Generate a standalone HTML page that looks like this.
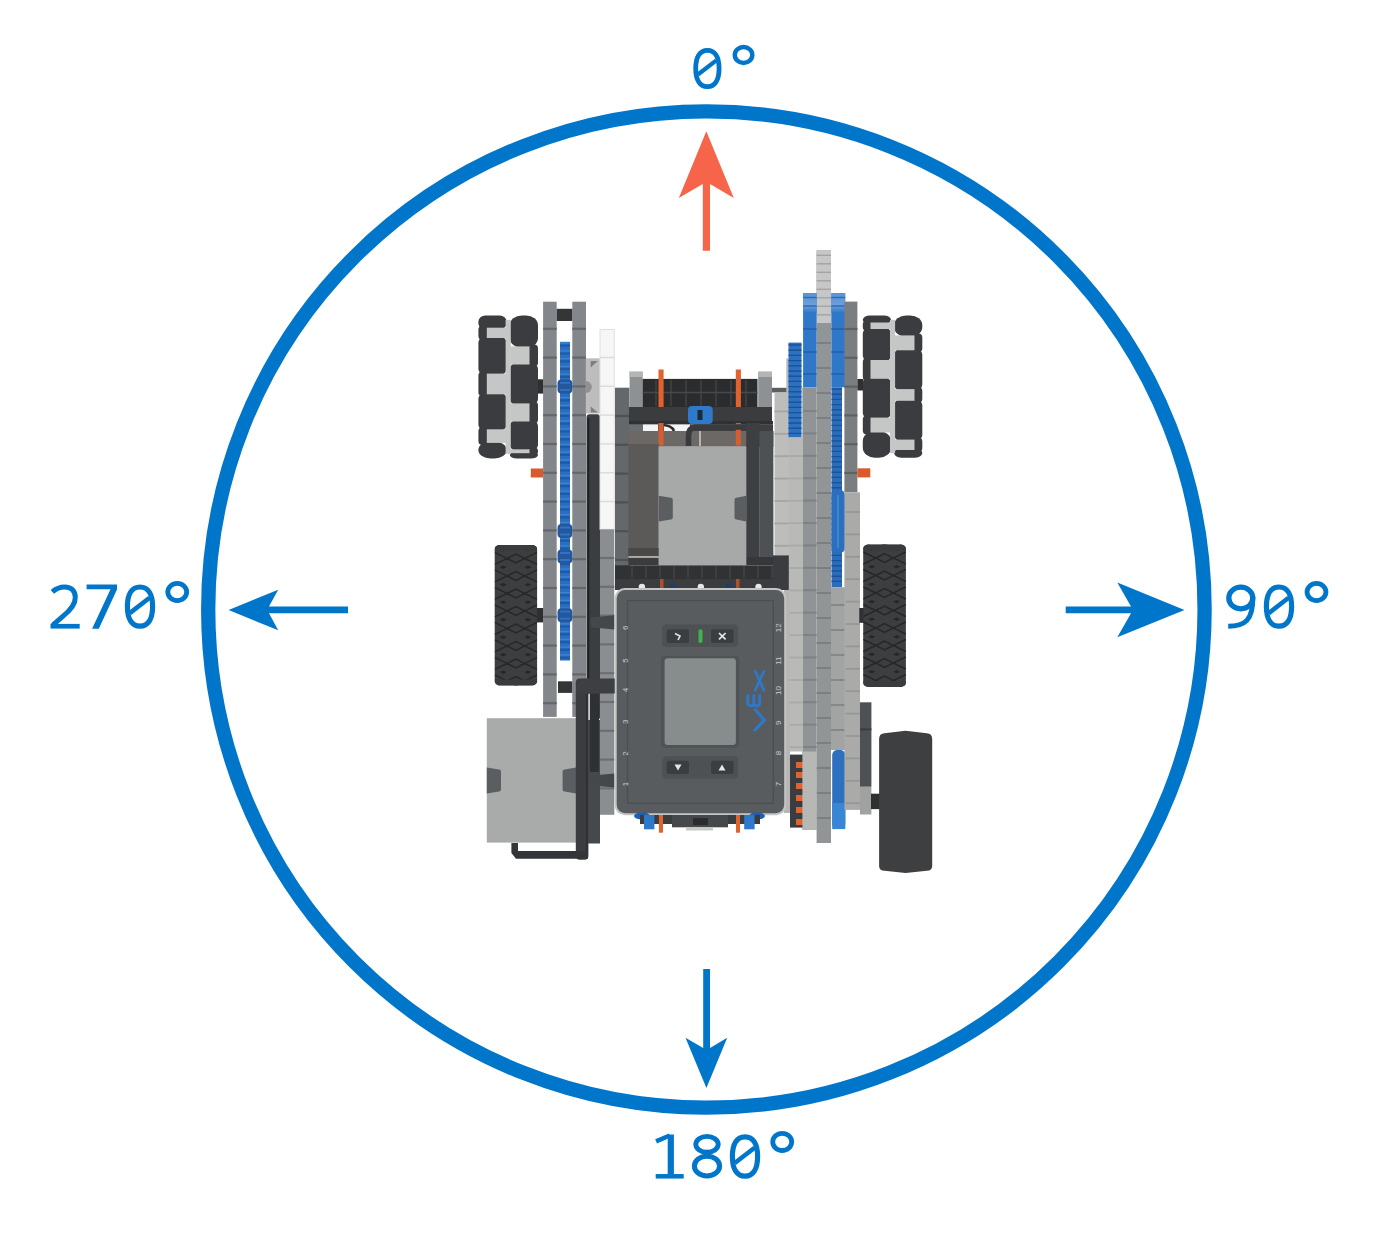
<!DOCTYPE html><html><head><meta charset="utf-8"><style>html,body{margin:0;padding:0;background:#fff;}svg{display:block;}</style></head><body>
<svg width="1384" height="1236" viewBox="0 0 1384 1236">
<rect width="1384" height="1236" fill="#fff"/>
<circle cx="706.4" cy="609.5" r="498.2" fill="none" stroke="#0076cb" stroke-width="14.3"/>
<polygon fill="#f6654a" points="706.3,131.3 733.8,198.1 710,183.9 710,250.7 702.8,250.7 702.8,183.9 678.8,198.1"/>
<polygon fill="#0076cb" points="228.6,610 278.2,589.7 269,606.6 348,606.6 348,613.3 269,613.3 278.2,630.3"/>
<polygon fill="#0076cb" points="1184.5,610 1117.3,582.6 1131,606.6 1065.7,606.6 1065.7,613.3 1131,613.3 1117.3,637.3"/>
<polygon fill="#0076cb" points="706.4,1087.9 727.2,1037.8 710,1048 710,969 703.2,969 703.2,1048 685.5,1037.8"/>
<g stroke="#0076cb" fill="none">
<path d="M707.40,50.34 C714.88,50.34 719.08,56.88 719.08,68.51 C719.08,80.13 714.88,86.68 707.40,86.68 C699.92,86.68 695.72,80.13 695.72,68.51 C695.72,56.88 699.92,50.34 707.40,50.34 Z" fill="none" stroke-width="4.82"/>
<path d="M697.94,74.53 L716.30,60.35" stroke-width="4.26"/>
<ellipse cx="743.55" cy="54.97" rx="8.76" ry="7.97" fill="none" stroke-width="4.45"/>
<path d="M52.30,591.80 C56.10,588.40 60.60,586.90 64.60,586.90 C71.60,586.90 75.30,591.10 75.30,597.60 C75.30,605.10 70.10,610.60 63.10,616.10 L52.70,625.10" fill="none" stroke-width="5.00" stroke-linejoin="round"/>
<path d="M50.50,626.25 L79.70,626.25" stroke-width="4.70"/>
<polygon points="86.60,584.50 117.00,584.50 117.00,589.40 98.80,628.80 92.10,628.80 110.50,589.20 86.60,589.20" fill="#0076cb" stroke="none"/>
<path d="M140.00,587.00 C148.06,587.00 152.60,594.06 152.60,606.60 C152.60,619.14 148.06,626.20 140.00,626.20 C131.94,626.20 127.40,619.14 127.40,606.60 C127.40,594.06 131.94,587.00 140.00,587.00 Z" fill="none" stroke-width="5.20"/>
<path d="M129.80,613.10 L149.60,597.80" stroke-width="4.60"/>
<ellipse cx="177.25" cy="592.00" rx="9.45" ry="8.60" fill="none" stroke-width="4.80"/>
<ellipse cx="1240.80" cy="598.00" rx="12.00" ry="10.80" fill="none" stroke-width="5.30"/>
<path d="M1252.80,596.60 C1253.20,620.60 1244.80,626.20 1228.20,626.20" fill="none" stroke-width="5.00"/>
<path d="M1279.00,587.00 C1287.06,587.00 1291.60,594.06 1291.60,606.60 C1291.60,619.14 1287.06,626.20 1279.00,626.20 C1270.94,626.20 1266.40,619.14 1266.40,606.60 C1266.40,594.06 1270.94,587.00 1279.00,587.00 Z" fill="none" stroke-width="5.20"/>
<path d="M1268.80,613.10 L1288.60,597.80" stroke-width="4.60"/>
<ellipse cx="1316.50" cy="592.00" rx="9.45" ry="8.60" fill="none" stroke-width="4.80"/>
<path d="M670.80,1134.50 L670.80,1176.50" stroke-width="6.20"/>
<path d="M655.70,1176.30 L683.70,1176.30" stroke-width="4.50"/>
<path d="M656.10,1141.30 L669.70,1135.50" stroke-width="4.60"/>
<ellipse cx="707.00" cy="1144.30" rx="11.20" ry="7.90" fill="none" stroke-width="4.90"/>
<ellipse cx="707.00" cy="1166.10" rx="12.60" ry="9.90" fill="none" stroke-width="5.10"/>
<path d="M745.00,1136.90 C753.06,1136.90 757.60,1143.96 757.60,1156.50 C757.60,1169.04 753.06,1176.10 745.00,1176.10 C736.94,1176.10 732.40,1169.04 732.40,1156.50 C732.40,1143.96 736.94,1136.90 745.00,1136.90 Z" fill="none" stroke-width="5.20"/>
<path d="M734.80,1163.00 L754.60,1147.70" stroke-width="4.60"/>
<ellipse cx="782.20" cy="1141.90" rx="9.45" ry="8.60" fill="none" stroke-width="4.80"/>
</g>
<!--ROBOT-->
<defs><linearGradient id="gtop" x1="0" y1="0" x2="0" y2="1"><stop offset="0" stop-color="#5a93d6"/><stop offset="0.6" stop-color="#6d9ed9"/><stop offset="1" stop-color="#2f77c8"/></linearGradient></defs>
<rect x="478.4" y="315.4" width="28.2" height="13.8" fill="#3a3c3f" rx="7" ry="6"/>
<rect x="478.4" y="336.5" width="28.2" height="38.6" fill="#3a3c3f" rx="7" ry="6"/>
<rect x="478.4" y="392.8" width="28.2" height="38.0" fill="#3a3c3f" rx="7" ry="6"/>
<rect x="478.4" y="441.4" width="28.2" height="17.0" fill="#3a3c3f" rx="12" ry="10"/>
<rect x="478.4" y="325.7" width="11.4" height="14.3" fill="#3a3c3f" rx="4"/>
<rect x="478.4" y="371.6" width="11.4" height="24.7" fill="#3a3c3f" rx="4"/>
<rect x="478.4" y="427.3" width="11.4" height="17.6" fill="#3a3c3f" rx="4"/>
<rect x="509.8" y="315.4" width="28.2" height="32.5" fill="#3a3c3f" rx="12" ry="10"/>
<rect x="509.8" y="363.0" width="28.2" height="41.9" fill="#3a3c3f" rx="7" ry="6"/>
<rect x="509.8" y="420.0" width="28.2" height="30.8" fill="#3a3c3f" rx="7" ry="6"/>
<rect x="509.8" y="451.7" width="28.2" height="6.7" fill="#3a3c3f" rx="7" ry="6"/>
<rect x="526.5" y="344.4" width="11.5" height="22.1" fill="#3a3c3f" rx="4"/>
<rect x="526.5" y="401.4" width="11.5" height="22.1" fill="#3a3c3f" rx="4"/>
<rect x="526.5" y="447.3" width="11.5" height="7.9" fill="#3a3c3f" rx="4"/>
<rect x="505.6" y="319.9" width="5.2" height="134.0" fill="#c5c7c6"/>
<rect x="486.8" y="327.7" width="19.3" height="10.3" fill="#c5c7c6"/>
<rect x="486.8" y="373.6" width="19.3" height="20.7" fill="#c5c7c6"/>
<rect x="486.8" y="429.3" width="19.3" height="13.6" fill="#c5c7c6"/>
<rect x="510.3" y="346.4" width="19.2" height="18.1" fill="#c5c7c6"/>
<rect x="510.3" y="403.4" width="19.2" height="18.1" fill="#c5c7c6"/>
<rect x="510.3" y="449.3" width="19.2" height="3.9" fill="#c5c7c6"/>
<rect x="538.0" y="379.3" width="5.5" height="14.3" fill="#2e3032"/>
<rect x="530.8" y="468.5" width="12.3" height="9.0" fill="#d95a2d"/>
<clipPath id="tl"><rect x="494.7" y="544.9" width="42.400000000000034" height="140.60000000000002" rx="6" ry="4"/></clipPath>
<rect x="494.7" y="544.9" width="42.400000000000034" height="140.60000000000002" rx="6" ry="4" fill="#3d3e40"/>
<g clip-path="url(#tl)"><path d="M507.1,540.9 L515.9,536.5 L524.7,540.9 L515.9,545.3 Z M494.7,534.9 L507.1,540.9 L494.7,546.9 M537.1,534.9 L524.7,540.9 L537.1,546.9 M507.1,558.4 L515.9,554.0 L524.7,558.4 L515.9,562.8 Z M494.7,552.4 L507.1,558.4 L494.7,564.4 M537.1,552.4 L524.7,558.4 L537.1,564.4 M507.1,575.9 L515.9,571.5 L524.7,575.9 L515.9,580.3 Z M494.7,569.9 L507.1,575.9 L494.7,581.9 M537.1,569.9 L524.7,575.9 L537.1,581.9 M507.1,593.4 L515.9,589.0 L524.7,593.4 L515.9,597.8 Z M494.7,587.4 L507.1,593.4 L494.7,599.4 M537.1,587.4 L524.7,593.4 L537.1,599.4 M507.1,610.9 L515.9,606.5 L524.7,610.9 L515.9,615.3 Z M494.7,604.9 L507.1,610.9 L494.7,616.9 M537.1,604.9 L524.7,610.9 L537.1,616.9 M507.1,628.4 L515.9,624.0 L524.7,628.4 L515.9,632.8 Z M494.7,622.4 L507.1,628.4 L494.7,634.4 M537.1,622.4 L524.7,628.4 L537.1,634.4 M507.1,645.9 L515.9,641.5 L524.7,645.9 L515.9,650.3 Z M494.7,639.9 L507.1,645.9 L494.7,651.9 M537.1,639.9 L524.7,645.9 L537.1,651.9 M507.1,663.4 L515.9,659.0 L524.7,663.4 L515.9,667.8 Z M494.7,657.4 L507.1,663.4 L494.7,669.4 M537.1,657.4 L524.7,663.4 L537.1,669.4 M507.1,680.9 L515.9,676.5 L524.7,680.9 L515.9,685.3 Z M494.7,674.9 L507.1,680.9 L494.7,686.9 M537.1,674.9 L524.7,680.9 L537.1,686.9 M507.1,698.4 L515.9,694.0 L524.7,698.4 L515.9,702.8 Z M494.7,692.4 L507.1,698.4 L494.7,704.4 M537.1,692.4 L524.7,698.4 L537.1,704.4" fill="none" stroke="#262729" stroke-width="1.5"/><path d="M499.6,549.6 L503.2,547.9 L506.8,549.6 L503.2,551.4 Z M524.3,549.6 L527.9,547.9 L531.5,549.6 L527.9,551.4 Z M499.6,567.1 L503.2,565.4 L506.8,567.1 L503.2,568.9 Z M524.3,567.1 L527.9,565.4 L531.5,567.1 L527.9,568.9 Z M499.6,584.6 L503.2,582.9 L506.8,584.6 L503.2,586.4 Z M524.3,584.6 L527.9,582.9 L531.5,584.6 L527.9,586.4 Z M499.6,602.1 L503.2,600.4 L506.8,602.1 L503.2,603.9 Z M524.3,602.1 L527.9,600.4 L531.5,602.1 L527.9,603.9 Z M499.6,619.6 L503.2,617.9 L506.8,619.6 L503.2,621.4 Z M524.3,619.6 L527.9,617.9 L531.5,619.6 L527.9,621.4 Z M499.6,637.1 L503.2,635.4 L506.8,637.1 L503.2,638.9 Z M524.3,637.1 L527.9,635.4 L531.5,637.1 L527.9,638.9 Z M499.6,654.6 L503.2,652.9 L506.8,654.6 L503.2,656.4 Z M524.3,654.6 L527.9,652.9 L531.5,654.6 L527.9,656.4 Z M499.6,672.1 L503.2,670.4 L506.8,672.1 L503.2,673.9 Z M524.3,672.1 L527.9,670.4 L531.5,672.1 L527.9,673.9 Z M499.6,689.6 L503.2,687.9 L506.8,689.6 L503.2,691.4 Z M524.3,689.6 L527.9,687.9 L531.5,689.6 L527.9,691.4 Z M499.6,707.1 L503.2,705.4 L506.8,707.1 L503.2,708.9 Z M524.3,707.1 L527.9,705.4 L531.5,707.1 L527.9,708.9 Z" fill="#262729"/><rect x="494.7" y="544.9" width="42.400000000000034" height="6" fill="#3a3b3d"/><rect x="494.7" y="679.5" width="42.400000000000034" height="6" fill="#3a3b3d"/></g>
<rect x="537.0" y="608.0" width="6.5" height="14.4" fill="#2e3032"/>
<rect x="543.1" y="301.7" width="13.6" height="415.2" fill="#83868a"/>
<rect x="572.3" y="301.7" width="13.7" height="415.2" fill="#83868a"/>
<line x1="543.1" y1="328.8" x2="556.7" y2="328.8" stroke="#65686b" stroke-width="2.2"/>
<line x1="543.1" y1="357.6" x2="556.7" y2="357.6" stroke="#65686b" stroke-width="2.2"/>
<line x1="543.1" y1="386.4" x2="556.7" y2="386.4" stroke="#65686b" stroke-width="2.2"/>
<line x1="543.1" y1="415.2" x2="556.7" y2="415.2" stroke="#65686b" stroke-width="2.2"/>
<line x1="543.1" y1="444.0" x2="556.7" y2="444.0" stroke="#65686b" stroke-width="2.2"/>
<line x1="543.1" y1="472.8" x2="556.7" y2="472.8" stroke="#65686b" stroke-width="2.2"/>
<line x1="543.1" y1="501.6" x2="556.7" y2="501.6" stroke="#65686b" stroke-width="2.2"/>
<line x1="543.1" y1="530.4" x2="556.7" y2="530.4" stroke="#65686b" stroke-width="2.2"/>
<line x1="543.1" y1="559.2" x2="556.7" y2="559.2" stroke="#65686b" stroke-width="2.2"/>
<line x1="543.1" y1="588.0" x2="556.7" y2="588.0" stroke="#65686b" stroke-width="2.2"/>
<line x1="543.1" y1="616.8" x2="556.7" y2="616.8" stroke="#65686b" stroke-width="2.2"/>
<line x1="543.1" y1="645.6" x2="556.7" y2="645.6" stroke="#65686b" stroke-width="2.2"/>
<line x1="543.1" y1="674.4" x2="556.7" y2="674.4" stroke="#65686b" stroke-width="2.2"/>
<line x1="543.1" y1="703.2" x2="556.7" y2="703.2" stroke="#65686b" stroke-width="2.2"/>
<line x1="572.3" y1="328.8" x2="586.0" y2="328.8" stroke="#65686b" stroke-width="2.2"/>
<line x1="572.3" y1="357.6" x2="586.0" y2="357.6" stroke="#65686b" stroke-width="2.2"/>
<line x1="572.3" y1="386.4" x2="586.0" y2="386.4" stroke="#65686b" stroke-width="2.2"/>
<line x1="572.3" y1="415.2" x2="586.0" y2="415.2" stroke="#65686b" stroke-width="2.2"/>
<line x1="572.3" y1="444.0" x2="586.0" y2="444.0" stroke="#65686b" stroke-width="2.2"/>
<line x1="572.3" y1="472.8" x2="586.0" y2="472.8" stroke="#65686b" stroke-width="2.2"/>
<line x1="572.3" y1="501.6" x2="586.0" y2="501.6" stroke="#65686b" stroke-width="2.2"/>
<line x1="572.3" y1="530.4" x2="586.0" y2="530.4" stroke="#65686b" stroke-width="2.2"/>
<line x1="572.3" y1="559.2" x2="586.0" y2="559.2" stroke="#65686b" stroke-width="2.2"/>
<line x1="572.3" y1="588.0" x2="586.0" y2="588.0" stroke="#65686b" stroke-width="2.2"/>
<line x1="572.3" y1="616.8" x2="586.0" y2="616.8" stroke="#65686b" stroke-width="2.2"/>
<line x1="572.3" y1="645.6" x2="586.0" y2="645.6" stroke="#65686b" stroke-width="2.2"/>
<line x1="572.3" y1="674.4" x2="586.0" y2="674.4" stroke="#65686b" stroke-width="2.2"/>
<line x1="572.3" y1="703.2" x2="586.0" y2="703.2" stroke="#65686b" stroke-width="2.2"/>
<rect x="556.7" y="308.8" width="15.6" height="12.2" fill="#333537"/>
<rect x="560.0" y="341.8" width="10.0" height="318.7" fill="#2a6ec2"/>
<path d="M560,345.7 H570 M560,353.5 H570 M560,361.3 H570 M560,369.1 H570 M560,376.9 H570 M560,384.7 H570 M560,392.5 H570 M560,400.3 H570 M560,408.1 H570 M560,415.9 H570 M560,423.7 H570 M560,431.5 H570 M560,439.3 H570 M560,447.1 H570 M560,454.9 H570 M560,462.7 H570 M560,470.5 H570 M560,478.3 H570 M560,486.1 H570 M560,493.9 H570 M560,501.7 H570 M560,509.5 H570 M560,517.3 H570 M560,525.1 H570 M560,532.9 H570 M560,540.7 H570 M560,548.5 H570 M560,556.3 H570 M560,564.1 H570 M560,571.9 H570 M560,579.7 H570 M560,587.5 H570 M560,595.3 H570 M560,603.1 H570 M560,610.9 H570 M560,618.7 H570 M560,626.5 H570 M560,634.3 H570 M560,642.1 H570 M560,649.9 H570 M560,657.7 H570" stroke="#1f5aa6" stroke-width="2.2"/>
<path d="M560,343.0 H570 M560,350.8 H570 M560,358.6 H570 M560,366.4 H570 M560,374.2 H570 M560,382.0 H570 M560,389.8 H570 M560,397.6 H570 M560,405.4 H570 M560,413.2 H570 M560,421.0 H570 M560,428.8 H570 M560,436.6 H570 M560,444.4 H570 M560,452.2 H570 M560,460.0 H570 M560,467.8 H570 M560,475.6 H570 M560,483.4 H570 M560,491.2 H570 M560,499.0 H570 M560,506.8 H570 M560,514.6 H570 M560,522.4 H570 M560,530.2 H570 M560,538.0 H570 M560,545.8 H570 M560,553.6 H570 M560,561.4 H570 M560,569.2 H570 M560,577.0 H570 M560,584.8 H570 M560,592.6 H570 M560,600.4 H570 M560,608.2 H570 M560,616.0 H570 M560,623.8 H570 M560,631.6 H570 M560,639.4 H570 M560,647.2 H570 M560,655.0 H570" stroke="#3a82d2" stroke-width="1.3"/>
<rect x="557.5" y="379.4" width="14.8" height="14" rx="4" fill="#24579c"/>
<path d="M560,382.9 H570 M560,389.9 H570" stroke="#2f73c4" stroke-width="1.8"/>
<rect x="557.5" y="524.0" width="14.8" height="14" rx="4" fill="#24579c"/>
<path d="M560,527.5 H570 M560,534.5 H570" stroke="#2f73c4" stroke-width="1.8"/>
<rect x="557.5" y="549.5" width="14.8" height="14" rx="4" fill="#24579c"/>
<path d="M560,553.0 H570 M560,560.0 H570" stroke="#2f73c4" stroke-width="1.8"/>
<rect x="557.5" y="608.2" width="14.8" height="14" rx="4" fill="#24579c"/>
<path d="M560,611.7 H570 M560,618.7 H570" stroke="#2f73c4" stroke-width="1.8"/>
<rect x="558.0" y="681.3" width="14.3" height="11.6" fill="#333537"/>
<rect x="585.8" y="358.3" width="14.2" height="55.2" fill="#bdbebc"/>
<path d="M590.7,361 L597.8,361 L590.7,367.5 Z" fill="#7d7f80"/>
<path d="M590.7,406.5 L597.8,412.6 L590.7,412.6 Z" fill="#7d7f80"/>
<path d="M585.8,381 A6,6 0 0 1 585.8,393 Z" fill="#8f9192"/>
<rect x="586.5" y="414.3" width="13.5" height="305.7" fill="#3b3d40" rx="3"/>
<line x1="588.3" y1="418.0" x2="588.3" y2="720.0" stroke="#1f2022" stroke-width="1.8"/>
<rect x="586.8" y="720.0" width="13.2" height="123.5" fill="#46494c"/>
<rect x="589.8" y="700.0" width="9.0" height="72.0" fill="#2e3033"/>
<rect x="600.0" y="329.5" width="14.3" height="199.8" fill="#f6f6f6" stroke="#e0e0e0" stroke-width="1"/>
<line x1="600.0" y1="357.5" x2="614.3" y2="357.5" stroke="#dcdcdc" stroke-width="1.5"/>
<line x1="600.0" y1="386.3" x2="614.3" y2="386.3" stroke="#dcdcdc" stroke-width="1.5"/>
<line x1="600.0" y1="415.1" x2="614.3" y2="415.1" stroke="#dcdcdc" stroke-width="1.5"/>
<line x1="600.0" y1="443.9" x2="614.3" y2="443.9" stroke="#dcdcdc" stroke-width="1.5"/>
<line x1="600.0" y1="472.7" x2="614.3" y2="472.7" stroke="#dcdcdc" stroke-width="1.5"/>
<line x1="600.0" y1="501.5" x2="614.3" y2="501.5" stroke="#dcdcdc" stroke-width="1.5"/>
<rect x="600.0" y="529.3" width="14.3" height="285.5" fill="#8b8e90"/>
<line x1="600.0" y1="558.0" x2="614.3" y2="558.0" stroke="#6c6f71" stroke-width="2.2"/>
<line x1="600.0" y1="586.8" x2="614.3" y2="586.8" stroke="#6c6f71" stroke-width="2.2"/>
<line x1="600.0" y1="615.6" x2="614.3" y2="615.6" stroke="#6c6f71" stroke-width="2.2"/>
<line x1="600.0" y1="644.4" x2="614.3" y2="644.4" stroke="#6c6f71" stroke-width="2.2"/>
<line x1="600.0" y1="673.2" x2="614.3" y2="673.2" stroke="#6c6f71" stroke-width="2.2"/>
<line x1="600.0" y1="702.0" x2="614.3" y2="702.0" stroke="#6c6f71" stroke-width="2.2"/>
<line x1="600.0" y1="730.8" x2="614.3" y2="730.8" stroke="#6c6f71" stroke-width="2.2"/>
<line x1="600.0" y1="759.6" x2="614.3" y2="759.6" stroke="#6c6f71" stroke-width="2.2"/>
<line x1="600.0" y1="788.4" x2="614.3" y2="788.4" stroke="#6c6f71" stroke-width="2.2"/>
<rect x="615.0" y="387.7" width="14.5" height="202.3" fill="#64686b"/>
<line x1="615.0" y1="416.0" x2="629.5" y2="416.0" stroke="#4e5154" stroke-width="2.2"/>
<line x1="615.0" y1="444.8" x2="629.5" y2="444.8" stroke="#4e5154" stroke-width="2.2"/>
<line x1="615.0" y1="473.6" x2="629.5" y2="473.6" stroke="#4e5154" stroke-width="2.2"/>
<line x1="615.0" y1="502.4" x2="629.5" y2="502.4" stroke="#4e5154" stroke-width="2.2"/>
<line x1="615.0" y1="531.2" x2="629.5" y2="531.2" stroke="#4e5154" stroke-width="2.2"/>
<line x1="615.0" y1="560.0" x2="629.5" y2="560.0" stroke="#4e5154" stroke-width="2.2"/>
<line x1="615.0" y1="588.8" x2="629.5" y2="588.8" stroke="#4e5154" stroke-width="2.2"/>
<path d="M614.3,615.2 L592.4,617.2 Q590.4,617.2 590.4,619.2 L590.4,625.5 Q590.4,627.5 592.4,627.5 L614.3,629.5 Z" fill="#45484b"/>
<path d="M614.3,678.7 L592.4,680.7 Q590.4,680.7 590.4,682.7 L590.4,688.3 Q590.4,690.3 592.4,690.3 L614.3,692.3 Z" fill="#45484b"/>
<path d="M614.3,773.4 L592.4,775.4 Q590.4,775.4 590.4,777.4 L590.4,783.6 Q590.4,785.6 592.4,785.6 L614.3,787.6 Z" fill="#45484b"/>
<rect x="486.8" y="718.2" width="89.3" height="124.4" fill="#a9abaa"/>
<path d="M486.8,767.5 L499.0,769.5 Q501,769.5 501,771.5 L501,789.4 Q501,791.4 499.0,791.4 L486.8,793.4 Z" fill="#5a5e61"/>
<path d="M576.1,767.5 L564.6,769.5 Q562.6,769.5 562.6,771.5 L562.6,789.4 Q562.6,791.4 564.6,791.4 L576.1,793.4 Z" fill="#5a5e61"/>
<rect x="586.5" y="693.6" width="3.5" height="26.4" fill="#f4f4f4"/>
<rect x="589.8" y="693.6" width="9.0" height="26.4" fill="#2e3033"/>
<rect x="575.8" y="678.4" width="12.6" height="181.4" fill="#3a3c3f" rx="4"/>
<path d="M576.5,688 Q576.5,678.4 586,678.4 L615,678.4 L615,693.6 L576.5,693.6 Z" fill="#3d3f42"/>
<line x1="586.8" y1="694.0" x2="586.8" y2="855.0" stroke="#2a2b2e" stroke-width="1.2"/>
<path d="M511.4,843 L518,843 L518,851 L588,851 L588,858.8 L516,858.8 L511.4,853 Z" fill="#333538"/>
<rect x="629.6" y="371.7" width="13.0" height="58.3" fill="#8e9193"/>
<rect x="629.6" y="371.7" width="13.0" height="5.3" fill="#b3b5b5"/>
<rect x="758.2" y="371.7" width="13.8" height="58.3" fill="#8e9193"/>
<rect x="758.2" y="371.7" width="13.8" height="5.3" fill="#b3b5b5"/>
<rect x="642.6" y="378.9" width="114.9" height="28.1" fill="#2b2c2e"/>
<line x1="656.0" y1="380.0" x2="656.0" y2="406.0" stroke="#46484a" stroke-width="1.2"/>
<line x1="671.0" y1="380.0" x2="671.0" y2="406.0" stroke="#46484a" stroke-width="1.2"/>
<line x1="686.0" y1="380.0" x2="686.0" y2="406.0" stroke="#46484a" stroke-width="1.2"/>
<line x1="701.0" y1="380.0" x2="701.0" y2="406.0" stroke="#46484a" stroke-width="1.2"/>
<line x1="716.0" y1="380.0" x2="716.0" y2="406.0" stroke="#46484a" stroke-width="1.2"/>
<line x1="731.0" y1="380.0" x2="731.0" y2="406.0" stroke="#46484a" stroke-width="1.2"/>
<line x1="746.0" y1="380.0" x2="746.0" y2="406.0" stroke="#46484a" stroke-width="1.2"/>
<line x1="642.6" y1="392.5" x2="757.5" y2="392.5" stroke="#46484a" stroke-width="1.5"/>
<rect x="658.5" y="369.5" width="5.1" height="75.9" fill="#e0622f"/>
<rect x="735.8" y="369.5" width="5.1" height="75.9" fill="#e0622f"/>
<rect x="629.0" y="407.0" width="143.0" height="16.0" fill="#3a3c3e"/>
<rect x="629.0" y="421.0" width="144.0" height="3.5" fill="#2f3133"/>
<rect x="629.0" y="424.5" width="144.0" height="6.5" fill="#3d3f41"/>
<rect x="629.0" y="424.5" width="14.0" height="6.5" fill="#6b6e70"/>
<rect x="643.0" y="424.5" width="15.0" height="6.5" fill="#f4f4f4"/>
<rect x="664.0" y="424.5" width="26.0" height="6.5" fill="#f4f4f4"/>
<path d="M661,425 Q672,425 674,431" fill="none" stroke="#2a2c2e" stroke-width="2.5"/>
<rect x="628.4" y="431.0" width="145.0" height="16.0" fill="#6b6866"/>
<rect x="658.5" y="423.0" width="5.1" height="22.4" fill="#d45e30"/>
<rect x="735.8" y="423.0" width="5.1" height="22.4" fill="#d45e30"/>
<line x1="700.0" y1="431.0" x2="700.0" y2="446.0" stroke="#e8e8e8" stroke-width="1.2"/>
<path d="M688.5,446 L688.5,436 Q688.5,427 697,427 L752,427" fill="none" stroke="#393b3e" stroke-width="5.5"/>
<rect x="628.4" y="444.0" width="30.4" height="112.2" fill="#5c5a58"/>
<rect x="628.4" y="548.0" width="30.4" height="8.2" fill="#4a4847"/>
<rect x="628.4" y="556.2" width="30.4" height="9.1" fill="#3a3c3e"/>
<line x1="628.4" y1="557.0" x2="658.8" y2="557.0" stroke="#e8e8e8" stroke-width="1.2"/>
<rect x="658.8" y="446.2" width="87.4" height="119.1" fill="#a7a9a8"/>
<path d="M658.8,495.8 L670.8,497.8 Q672.8,497.8 672.8,499.8 L672.8,517.5 Q672.8,519.5 670.8,519.5 L658.8,521.5 Z" fill="#5a5e61"/>
<path d="M746.2,495.8 L736.5,497.8 Q734.5,497.8 734.5,499.8 L734.5,517.5 Q734.5,519.5 736.5,519.5 L746.2,521.5 Z" fill="#5a5e61"/>
<rect x="746.2" y="423.0" width="13.6" height="134.0" fill="#3d3f42"/>
<rect x="759.8" y="431.0" width="13.6" height="126.0" fill="#4e5154"/>
<path d="M746.2,557 L773.4,557 L790,565.3 L746.2,565.3 Z" fill="#35373a"/>
<rect x="688.0" y="406.0" width="24.7" height="18.0" fill="#2f79ca" rx="4"/>
<rect x="697.5" y="410.0" width="5.0" height="10.0" fill="#1c2a3a"/>
<rect x="615.0" y="565.3" width="175.0" height="13.7" fill="#303234"/>
<line x1="632.0" y1="566.0" x2="632.0" y2="578.0" stroke="#45474a" stroke-width="1.2"/>
<line x1="646.0" y1="566.0" x2="646.0" y2="578.0" stroke="#45474a" stroke-width="1.2"/>
<line x1="660.0" y1="566.0" x2="660.0" y2="578.0" stroke="#45474a" stroke-width="1.2"/>
<line x1="674.0" y1="566.0" x2="674.0" y2="578.0" stroke="#45474a" stroke-width="1.2"/>
<line x1="688.0" y1="566.0" x2="688.0" y2="578.0" stroke="#45474a" stroke-width="1.2"/>
<line x1="702.0" y1="566.0" x2="702.0" y2="578.0" stroke="#45474a" stroke-width="1.2"/>
<line x1="716.0" y1="566.0" x2="716.0" y2="578.0" stroke="#45474a" stroke-width="1.2"/>
<line x1="730.0" y1="566.0" x2="730.0" y2="578.0" stroke="#45474a" stroke-width="1.2"/>
<line x1="744.0" y1="566.0" x2="744.0" y2="578.0" stroke="#45474a" stroke-width="1.2"/>
<line x1="758.0" y1="566.0" x2="758.0" y2="578.0" stroke="#45474a" stroke-width="1.2"/>
<line x1="772.0" y1="566.0" x2="772.0" y2="578.0" stroke="#45474a" stroke-width="1.2"/>
<line x1="786.0" y1="566.0" x2="786.0" y2="578.0" stroke="#45474a" stroke-width="1.2"/>
<rect x="615.0" y="579.0" width="175.0" height="11.0" fill="#3a3c3f"/>
<circle cx="641.9" cy="587" r="3.2" fill="#e8e8e8"/>
<circle cx="700.8" cy="587" r="3.2" fill="#e8e8e8"/>
<circle cx="758.5" cy="587" r="3.2" fill="#e8e8e8"/>
<circle cx="672.5" cy="587" r="3.2" fill="#1e3d66"/>
<circle cx="729.1" cy="587" r="3.2" fill="#1e3d66"/>
<rect x="660.0" y="579.0" width="3.5" height="11.0" fill="#b0502a"/>
<rect x="736.0" y="579.0" width="3.5" height="11.0" fill="#b0502a"/>
<rect x="816.6" y="250.4" width="14.4" height="592.6" fill="#929596"/>
<rect x="816.6" y="250.4" width="14.4" height="72.6" fill="#c6c7c6"/>
<line x1="816.6" y1="255.3" x2="831.0" y2="255.3" stroke="#a3a5a4" stroke-width="1.4"/>
<line x1="816.6" y1="263.8" x2="831.0" y2="263.8" stroke="#a3a5a4" stroke-width="1.4"/>
<line x1="816.6" y1="272.3" x2="831.0" y2="272.3" stroke="#a3a5a4" stroke-width="1.4"/>
<line x1="816.6" y1="280.8" x2="831.0" y2="280.8" stroke="#a3a5a4" stroke-width="1.4"/>
<line x1="816.6" y1="289.3" x2="831.0" y2="289.3" stroke="#a3a5a4" stroke-width="1.4"/>
<line x1="816.6" y1="297.8" x2="831.0" y2="297.8" stroke="#a3a5a4" stroke-width="1.4"/>
<line x1="816.6" y1="306.3" x2="831.0" y2="306.3" stroke="#a3a5a4" stroke-width="1.4"/>
<line x1="816.6" y1="314.8" x2="831.0" y2="314.8" stroke="#a3a5a4" stroke-width="1.4"/>
<line x1="816.6" y1="343.0" x2="831.0" y2="343.0" stroke="#7c7f81" stroke-width="2.0"/>
<line x1="816.6" y1="368.0" x2="831.0" y2="368.0" stroke="#7c7f81" stroke-width="2.0"/>
<line x1="816.6" y1="393.0" x2="831.0" y2="393.0" stroke="#7c7f81" stroke-width="2.0"/>
<line x1="816.6" y1="418.0" x2="831.0" y2="418.0" stroke="#7c7f81" stroke-width="2.0"/>
<line x1="816.6" y1="443.0" x2="831.0" y2="443.0" stroke="#7c7f81" stroke-width="2.0"/>
<line x1="816.6" y1="468.0" x2="831.0" y2="468.0" stroke="#7c7f81" stroke-width="2.0"/>
<line x1="816.6" y1="493.0" x2="831.0" y2="493.0" stroke="#7c7f81" stroke-width="2.0"/>
<line x1="816.6" y1="518.0" x2="831.0" y2="518.0" stroke="#7c7f81" stroke-width="2.0"/>
<line x1="816.6" y1="543.0" x2="831.0" y2="543.0" stroke="#7c7f81" stroke-width="2.0"/>
<line x1="816.6" y1="568.0" x2="831.0" y2="568.0" stroke="#7c7f81" stroke-width="2.0"/>
<line x1="816.6" y1="593.0" x2="831.0" y2="593.0" stroke="#7c7f81" stroke-width="2.0"/>
<line x1="816.6" y1="618.0" x2="831.0" y2="618.0" stroke="#7c7f81" stroke-width="2.0"/>
<line x1="816.6" y1="643.0" x2="831.0" y2="643.0" stroke="#7c7f81" stroke-width="2.0"/>
<line x1="816.6" y1="668.0" x2="831.0" y2="668.0" stroke="#7c7f81" stroke-width="2.0"/>
<line x1="816.6" y1="693.0" x2="831.0" y2="693.0" stroke="#7c7f81" stroke-width="2.0"/>
<line x1="816.6" y1="718.0" x2="831.0" y2="718.0" stroke="#7c7f81" stroke-width="2.0"/>
<line x1="816.6" y1="743.0" x2="831.0" y2="743.0" stroke="#7c7f81" stroke-width="2.0"/>
<line x1="816.6" y1="768.0" x2="831.0" y2="768.0" stroke="#7c7f81" stroke-width="2.0"/>
<line x1="816.6" y1="793.0" x2="831.0" y2="793.0" stroke="#7c7f81" stroke-width="2.0"/>
<line x1="816.6" y1="818.0" x2="831.0" y2="818.0" stroke="#7c7f81" stroke-width="2.0"/>
<rect x="803.1" y="293.2" width="13.5" height="94.1" fill="#2f77c8"/>
<rect x="831.3" y="293.2" width="13.9" height="94.1" fill="#2f77c8"/>
<rect x="803.1" y="293.2" width="13.5" height="19.8" fill="url(#gtop)"/>
<line x1="803.1" y1="297.5" x2="816.6" y2="297.5" stroke="#2a6cc0" stroke-width="1.5"/>
<line x1="803.1" y1="306.0" x2="816.6" y2="306.0" stroke="#2a6cc0" stroke-width="1.5"/>
<rect x="831.3" y="293.2" width="13.9" height="19.8" fill="url(#gtop)"/>
<line x1="831.3" y1="297.5" x2="845.2" y2="297.5" stroke="#2a6cc0" stroke-width="1.5"/>
<line x1="831.3" y1="306.0" x2="845.2" y2="306.0" stroke="#2a6cc0" stroke-width="1.5"/>
<line x1="803.1" y1="329.0" x2="816.6" y2="329.0" stroke="#2460a8" stroke-width="1.5"/>
<line x1="831.3" y1="329.0" x2="845.2" y2="329.0" stroke="#2460a8" stroke-width="1.5"/>
<line x1="803.1" y1="352.0" x2="816.6" y2="352.0" stroke="#2460a8" stroke-width="1.5"/>
<line x1="831.3" y1="352.0" x2="845.2" y2="352.0" stroke="#2460a8" stroke-width="1.5"/>
<line x1="803.1" y1="374.0" x2="816.6" y2="374.0" stroke="#2460a8" stroke-width="1.5"/>
<line x1="831.3" y1="374.0" x2="845.2" y2="374.0" stroke="#2460a8" stroke-width="1.5"/>
<rect x="802.4" y="387.3" width="14.2" height="442.6" fill="#909497"/>
<line x1="803.1" y1="411.0" x2="816.6" y2="411.0" stroke="#7f8284" stroke-width="2.0"/>
<line x1="803.1" y1="433.4" x2="816.6" y2="433.4" stroke="#7f8284" stroke-width="2.0"/>
<line x1="803.1" y1="455.8" x2="816.6" y2="455.8" stroke="#7f8284" stroke-width="2.0"/>
<line x1="803.1" y1="478.2" x2="816.6" y2="478.2" stroke="#7f8284" stroke-width="2.0"/>
<line x1="803.1" y1="500.6" x2="816.6" y2="500.6" stroke="#7f8284" stroke-width="2.0"/>
<line x1="803.1" y1="523.0" x2="816.6" y2="523.0" stroke="#7f8284" stroke-width="2.0"/>
<line x1="803.1" y1="545.4" x2="816.6" y2="545.4" stroke="#7f8284" stroke-width="2.0"/>
<line x1="803.1" y1="567.8" x2="816.6" y2="567.8" stroke="#7f8284" stroke-width="2.0"/>
<line x1="803.1" y1="590.2" x2="816.6" y2="590.2" stroke="#7f8284" stroke-width="2.0"/>
<line x1="803.1" y1="612.6" x2="816.6" y2="612.6" stroke="#7f8284" stroke-width="2.0"/>
<line x1="803.1" y1="635.0" x2="816.6" y2="635.0" stroke="#7f8284" stroke-width="2.0"/>
<line x1="803.1" y1="657.4" x2="816.6" y2="657.4" stroke="#7f8284" stroke-width="2.0"/>
<line x1="803.1" y1="679.8" x2="816.6" y2="679.8" stroke="#7f8284" stroke-width="2.0"/>
<line x1="803.1" y1="702.2" x2="816.6" y2="702.2" stroke="#7f8284" stroke-width="2.0"/>
<line x1="803.1" y1="724.6" x2="816.6" y2="724.6" stroke="#7f8284" stroke-width="2.0"/>
<line x1="803.1" y1="747.0" x2="816.6" y2="747.0" stroke="#7f8284" stroke-width="2.0"/>
<line x1="803.1" y1="769.4" x2="816.6" y2="769.4" stroke="#7f8284" stroke-width="2.0"/>
<line x1="803.1" y1="791.8" x2="816.6" y2="791.8" stroke="#7f8284" stroke-width="2.0"/>
<line x1="803.1" y1="814.2" x2="816.6" y2="814.2" stroke="#7f8284" stroke-width="2.0"/>
<rect x="831.5" y="387.3" width="10.5" height="199.9" fill="#2a6dbd"/>
<path d="M831.5,389.0 H842 M831.5,394.2 H842 M831.5,399.4 H842 M831.5,404.6 H842 M831.5,409.8 H842 M831.5,415.0 H842 M831.5,420.2 H842 M831.5,425.4 H842 M831.5,430.6 H842 M831.5,435.8 H842 M831.5,441.0 H842 M831.5,446.2 H842 M831.5,451.4 H842 M831.5,456.6 H842 M831.5,461.8 H842 M831.5,467.0 H842 M831.5,472.2 H842 M831.5,477.4 H842 M831.5,482.6 H842 M831.5,487.8 H842 M831.5,493.0 H842 M831.5,498.2 H842 M831.5,503.4 H842 M831.5,508.6 H842 M831.5,513.8 H842 M831.5,519.0 H842 M831.5,524.2 H842 M831.5,529.4 H842 M831.5,534.6 H842 M831.5,539.8 H842 M831.5,545.0 H842 M831.5,550.2 H842 M831.5,555.4 H842 M831.5,560.6 H842 M831.5,565.8 H842 M831.5,571.0 H842 M831.5,576.2 H842 M831.5,581.4 H842" stroke="#1c5296" stroke-width="1.4"/>
<rect x="831.5" y="490.0" width="13.5" height="63.0" fill="#2d6fbf" rx="5"/>
<line x1="838.0" y1="495.0" x2="838.0" y2="548.0" stroke="#3d86d4" stroke-width="2"/>
<rect x="831.0" y="587.2" width="14.0" height="162.8" fill="#a2a4a4"/>
<line x1="831.0" y1="605.0" x2="845.0" y2="605.0" stroke="#858889" stroke-width="2.0"/>
<line x1="831.0" y1="630.0" x2="845.0" y2="630.0" stroke="#858889" stroke-width="2.0"/>
<line x1="831.0" y1="655.0" x2="845.0" y2="655.0" stroke="#858889" stroke-width="2.0"/>
<line x1="831.0" y1="680.0" x2="845.0" y2="680.0" stroke="#858889" stroke-width="2.0"/>
<line x1="831.0" y1="705.0" x2="845.0" y2="705.0" stroke="#858889" stroke-width="2.0"/>
<line x1="831.0" y1="730.0" x2="845.0" y2="730.0" stroke="#858889" stroke-width="2.0"/>
<rect x="832.2" y="750.0" width="13.1" height="79.1" fill="#2c70bf" rx="5"/>
<rect x="832.2" y="803.0" width="13.1" height="26.1" fill="#3a86d6"/>
<rect x="844.4" y="301.6" width="13.0" height="190.7" fill="#7b7e80"/>
<line x1="844.4" y1="329.0" x2="857.4" y2="329.0" stroke="#5f6264" stroke-width="2.2"/>
<line x1="844.4" y1="357.8" x2="857.4" y2="357.8" stroke="#5f6264" stroke-width="2.2"/>
<line x1="844.4" y1="386.6" x2="857.4" y2="386.6" stroke="#5f6264" stroke-width="2.2"/>
<line x1="844.4" y1="415.4" x2="857.4" y2="415.4" stroke="#5f6264" stroke-width="2.2"/>
<line x1="844.4" y1="444.2" x2="857.4" y2="444.2" stroke="#5f6264" stroke-width="2.2"/>
<line x1="844.4" y1="473.0" x2="857.4" y2="473.0" stroke="#5f6264" stroke-width="2.2"/>
<rect x="844.4" y="492.3" width="15.6" height="317.6" fill="#aaaba9"/>
<line x1="845.7" y1="512.0" x2="860.0" y2="512.0" stroke="#959797" stroke-width="1.8"/>
<line x1="845.7" y1="534.4" x2="860.0" y2="534.4" stroke="#959797" stroke-width="1.8"/>
<line x1="845.7" y1="556.8" x2="860.0" y2="556.8" stroke="#959797" stroke-width="1.8"/>
<line x1="845.7" y1="579.2" x2="860.0" y2="579.2" stroke="#959797" stroke-width="1.8"/>
<line x1="845.7" y1="601.6" x2="860.0" y2="601.6" stroke="#959797" stroke-width="1.8"/>
<line x1="845.7" y1="624.0" x2="860.0" y2="624.0" stroke="#959797" stroke-width="1.8"/>
<line x1="845.7" y1="646.4" x2="860.0" y2="646.4" stroke="#959797" stroke-width="1.8"/>
<line x1="845.7" y1="668.8" x2="860.0" y2="668.8" stroke="#959797" stroke-width="1.8"/>
<line x1="845.7" y1="691.2" x2="860.0" y2="691.2" stroke="#959797" stroke-width="1.8"/>
<line x1="845.7" y1="713.6" x2="860.0" y2="713.6" stroke="#959797" stroke-width="1.8"/>
<line x1="845.7" y1="736.0" x2="860.0" y2="736.0" stroke="#959797" stroke-width="1.8"/>
<line x1="845.7" y1="758.4" x2="860.0" y2="758.4" stroke="#959797" stroke-width="1.8"/>
<line x1="845.7" y1="780.8" x2="860.0" y2="780.8" stroke="#959797" stroke-width="1.8"/>
<line x1="845.7" y1="803.2" x2="860.0" y2="803.2" stroke="#959797" stroke-width="1.8"/>
<rect x="860.0" y="702.3" width="11.4" height="84.5" fill="#4e5154"/>
<line x1="860.0" y1="729.4" x2="871.4" y2="729.4" stroke="#3a3c3f" stroke-width="2"/>
<rect x="860.0" y="786.8" width="11.4" height="27.7" fill="#a0a2a2"/>
<rect x="784.0" y="587.0" width="6.0" height="226.0" fill="#b6b7b5"/>
<rect x="772.0" y="387.8" width="16.1" height="4.7" fill="#5c5f62"/>
<rect x="774.5" y="392.5" width="14.9" height="162.8" fill="#bdbebc"/>
<rect x="773.0" y="555.3" width="16.4" height="34.7" fill="#3a3c3f"/>
<line x1="774.5" y1="411.4" x2="789.4" y2="411.4" stroke="#a3a5a4" stroke-width="1.8"/>
<line x1="774.5" y1="433.8" x2="789.4" y2="433.8" stroke="#a3a5a4" stroke-width="1.8"/>
<line x1="774.5" y1="456.2" x2="789.4" y2="456.2" stroke="#a3a5a4" stroke-width="1.8"/>
<line x1="774.5" y1="478.6" x2="789.4" y2="478.6" stroke="#a3a5a4" stroke-width="1.8"/>
<line x1="774.5" y1="501.0" x2="789.4" y2="501.0" stroke="#a3a5a4" stroke-width="1.8"/>
<line x1="774.5" y1="523.4" x2="789.4" y2="523.4" stroke="#a3a5a4" stroke-width="1.8"/>
<line x1="774.5" y1="545.8" x2="789.4" y2="545.8" stroke="#a3a5a4" stroke-width="1.8"/>
<rect x="786.3" y="358.4" width="4.2" height="33.6" fill="#b8bab9"/>
<rect x="788.8" y="437.2" width="14.2" height="314.3" fill="#b9bab8"/>
<line x1="789.4" y1="456.0" x2="802.4" y2="456.0" stroke="#a8aaa9" stroke-width="1.8"/>
<line x1="789.4" y1="478.4" x2="802.4" y2="478.4" stroke="#a8aaa9" stroke-width="1.8"/>
<line x1="789.4" y1="500.8" x2="802.4" y2="500.8" stroke="#a8aaa9" stroke-width="1.8"/>
<line x1="789.4" y1="523.2" x2="802.4" y2="523.2" stroke="#a8aaa9" stroke-width="1.8"/>
<line x1="789.4" y1="545.6" x2="802.4" y2="545.6" stroke="#a8aaa9" stroke-width="1.8"/>
<line x1="789.4" y1="568.0" x2="802.4" y2="568.0" stroke="#a8aaa9" stroke-width="1.8"/>
<line x1="789.4" y1="590.4" x2="802.4" y2="590.4" stroke="#a8aaa9" stroke-width="1.8"/>
<line x1="789.4" y1="612.8" x2="802.4" y2="612.8" stroke="#a8aaa9" stroke-width="1.8"/>
<line x1="789.4" y1="635.2" x2="802.4" y2="635.2" stroke="#a8aaa9" stroke-width="1.8"/>
<line x1="789.4" y1="657.6" x2="802.4" y2="657.6" stroke="#a8aaa9" stroke-width="1.8"/>
<line x1="789.4" y1="680.0" x2="802.4" y2="680.0" stroke="#a8aaa9" stroke-width="1.8"/>
<line x1="789.4" y1="702.4" x2="802.4" y2="702.4" stroke="#a8aaa9" stroke-width="1.8"/>
<line x1="789.4" y1="724.8" x2="802.4" y2="724.8" stroke="#a8aaa9" stroke-width="1.8"/>
<line x1="789.4" y1="747.2" x2="802.4" y2="747.2" stroke="#a8aaa9" stroke-width="1.8"/>
<rect x="788.5" y="342.6" width="13.0" height="94.6" fill="#2b70c1"/>
<path d="M788.5,345.0 H801.5 M788.5,350.2 H801.5 M788.5,355.4 H801.5 M788.5,360.6 H801.5 M788.5,365.8 H801.5 M788.5,371.0 H801.5 M788.5,376.2 H801.5 M788.5,381.4 H801.5 M788.5,386.6 H801.5 M788.5,391.8 H801.5 M788.5,397.0 H801.5 M788.5,402.2 H801.5 M788.5,407.4 H801.5 M788.5,412.6 H801.5 M788.5,417.8 H801.5 M788.5,423.0 H801.5 M788.5,428.2 H801.5 M788.5,433.4 H801.5" stroke="#1c5296" stroke-width="1.4"/>
<rect x="790.0" y="754.6" width="13.0" height="73.0" fill="#3a3c3f"/>
<rect x="796.0" y="762.0" width="7.0" height="6.0" fill="#e0622f"/>
<rect x="796.0" y="772.0" width="7.0" height="6.0" fill="#e0622f"/>
<rect x="796.0" y="783.0" width="7.0" height="6.0" fill="#e0622f"/>
<rect x="796.0" y="795.0" width="7.0" height="6.0" fill="#e0622f"/>
<rect x="796.0" y="807.0" width="7.0" height="6.0" fill="#e0622f"/>
<rect x="796.0" y="819.0" width="7.0" height="6.0" fill="#e0622f"/>
<rect x="802.4" y="751.5" width="14.2" height="78.4" fill="#b7b8b6"/>
<rect x="857.4" y="379.0" width="6.1" height="11.5" fill="#2e3032"/>
<rect x="857.4" y="468.3" width="12.9" height="9.1" fill="#d95a2d"/>
<rect x="859.3" y="608.0" width="4.7" height="14.8" fill="#2e3032"/>
<rect x="871.0" y="793.7" width="9.0" height="15.4" fill="#2e3032"/>
<rect x="862.8" y="315.4" width="28.2" height="8.6" fill="#3a3c3f" rx="7" ry="6"/>
<rect x="862.8" y="327.5" width="28.2" height="34.0" fill="#3a3c3f" rx="7" ry="6"/>
<rect x="862.8" y="377.3" width="28.2" height="41.8" fill="#3a3c3f" rx="7" ry="6"/>
<rect x="862.8" y="431.0" width="28.2" height="26.7" fill="#3a3c3f" rx="12" ry="10"/>
<rect x="862.8" y="320.5" width="10.7" height="10.5" fill="#3a3c3f" rx="4"/>
<rect x="862.8" y="358.0" width="10.7" height="22.8" fill="#3a3c3f" rx="4"/>
<rect x="862.8" y="415.6" width="10.7" height="18.9" fill="#3a3c3f" rx="4"/>
<rect x="894.1" y="315.4" width="28.2" height="21.5" fill="#3a3c3f" rx="12" ry="10"/>
<rect x="894.1" y="348.8" width="28.2" height="41.8" fill="#3a3c3f" rx="7" ry="6"/>
<rect x="894.1" y="399.3" width="28.2" height="41.8" fill="#3a3c3f" rx="7" ry="6"/>
<rect x="894.1" y="448.5" width="28.2" height="9.2" fill="#3a3c3f" rx="7" ry="6"/>
<rect x="911.5" y="333.4" width="10.8" height="18.9" fill="#3a3c3f" rx="4"/>
<rect x="911.5" y="387.1" width="10.8" height="15.7" fill="#3a3c3f" rx="4"/>
<rect x="911.5" y="437.6" width="10.8" height="14.4" fill="#3a3c3f" rx="4"/>
<rect x="890.0" y="319.9" width="5.1" height="133.3" fill="#c5c7c6"/>
<rect x="870.5" y="322.5" width="20.0" height="6.5" fill="#c5c7c6"/>
<rect x="870.5" y="360.0" width="20.0" height="18.8" fill="#c5c7c6"/>
<rect x="870.5" y="417.6" width="20.0" height="14.9" fill="#c5c7c6"/>
<rect x="894.6" y="335.4" width="19.9" height="14.9" fill="#c5c7c6"/>
<rect x="894.6" y="389.1" width="19.9" height="11.7" fill="#c5c7c6"/>
<rect x="894.6" y="439.6" width="19.9" height="10.4" fill="#c5c7c6"/>
<clipPath id="tr"><rect x="863.2" y="544.5" width="42.69999999999993" height="142.39999999999998" rx="6" ry="4"/></clipPath>
<rect x="863.2" y="544.5" width="42.69999999999993" height="142.39999999999998" rx="6" ry="4" fill="#3d3e40"/>
<g clip-path="url(#tr)"><path d="M875.8,540.5 L884.5,536.1 L893.3,540.5 L884.5,544.9 Z M863.2,534.5 L875.8,540.5 L863.2,546.5 M905.9,534.5 L893.3,540.5 L905.9,546.5 M875.8,558.0 L884.5,553.6 L893.3,558.0 L884.5,562.4 Z M863.2,552.0 L875.8,558.0 L863.2,564.0 M905.9,552.0 L893.3,558.0 L905.9,564.0 M875.8,575.5 L884.5,571.1 L893.3,575.5 L884.5,579.9 Z M863.2,569.5 L875.8,575.5 L863.2,581.5 M905.9,569.5 L893.3,575.5 L905.9,581.5 M875.8,593.0 L884.5,588.6 L893.3,593.0 L884.5,597.4 Z M863.2,587.0 L875.8,593.0 L863.2,599.0 M905.9,587.0 L893.3,593.0 L905.9,599.0 M875.8,610.5 L884.5,606.1 L893.3,610.5 L884.5,614.9 Z M863.2,604.5 L875.8,610.5 L863.2,616.5 M905.9,604.5 L893.3,610.5 L905.9,616.5 M875.8,628.0 L884.5,623.6 L893.3,628.0 L884.5,632.4 Z M863.2,622.0 L875.8,628.0 L863.2,634.0 M905.9,622.0 L893.3,628.0 L905.9,634.0 M875.8,645.5 L884.5,641.1 L893.3,645.5 L884.5,649.9 Z M863.2,639.5 L875.8,645.5 L863.2,651.5 M905.9,639.5 L893.3,645.5 L905.9,651.5 M875.8,663.0 L884.5,658.6 L893.3,663.0 L884.5,667.4 Z M863.2,657.0 L875.8,663.0 L863.2,669.0 M905.9,657.0 L893.3,663.0 L905.9,669.0 M875.8,680.5 L884.5,676.1 L893.3,680.5 L884.5,684.9 Z M863.2,674.5 L875.8,680.5 L863.2,686.5 M905.9,674.5 L893.3,680.5 L905.9,686.5 M875.8,698.0 L884.5,693.6 L893.3,698.0 L884.5,702.4 Z M863.2,692.0 L875.8,698.0 L863.2,704.0 M905.9,692.0 L893.3,698.0 L905.9,704.0" fill="none" stroke="#262729" stroke-width="1.5"/><path d="M868.1,549.2 L871.7,547.5 L875.3,549.2 L871.7,551.0 Z M893.1,549.2 L896.7,547.5 L900.3,549.2 L896.7,551.0 Z M868.1,566.8 L871.7,565.0 L875.3,566.8 L871.7,568.5 Z M893.1,566.8 L896.7,565.0 L900.3,566.8 L896.7,568.5 Z M868.1,584.2 L871.7,582.5 L875.3,584.2 L871.7,586.0 Z M893.1,584.2 L896.7,582.5 L900.3,584.2 L896.7,586.0 Z M868.1,601.8 L871.7,600.0 L875.3,601.8 L871.7,603.5 Z M893.1,601.8 L896.7,600.0 L900.3,601.8 L896.7,603.5 Z M868.1,619.2 L871.7,617.5 L875.3,619.2 L871.7,621.0 Z M893.1,619.2 L896.7,617.5 L900.3,619.2 L896.7,621.0 Z M868.1,636.8 L871.7,635.0 L875.3,636.8 L871.7,638.5 Z M893.1,636.8 L896.7,635.0 L900.3,636.8 L896.7,638.5 Z M868.1,654.2 L871.7,652.5 L875.3,654.2 L871.7,656.0 Z M893.1,654.2 L896.7,652.5 L900.3,654.2 L896.7,656.0 Z M868.1,671.8 L871.7,670.0 L875.3,671.8 L871.7,673.5 Z M893.1,671.8 L896.7,670.0 L900.3,671.8 L896.7,673.5 Z M868.1,689.2 L871.7,687.5 L875.3,689.2 L871.7,691.0 Z M893.1,689.2 L896.7,687.5 L900.3,689.2 L896.7,691.0 Z M868.1,706.8 L871.7,705.0 L875.3,706.8 L871.7,708.5 Z M893.1,706.8 L896.7,705.0 L900.3,706.8 L896.7,708.5 Z" fill="#262729"/><rect x="863.2" y="544.5" width="42.69999999999993" height="6" fill="#3a3b3d"/><rect x="863.2" y="680.9" width="42.69999999999993" height="6" fill="#3a3b3d"/></g>
<path d="M879.1,739 Q879.1,733.5 884.5,733.2 L905.6,730.7 L926.8,733.2 Q932.2,733.5 932.2,739 L932.2,866 Q932.2,870.5 926.8,870.8 L905.6,872.9 L884.5,870.8 Q879.1,870.5 879.1,866 Z" fill="#3d3f41"/>
<rect x="614.7" y="588.1" width="171.5" height="227.2" fill="#c3c5c5" rx="10"/>
<rect x="616.7" y="590.1" width="167.5" height="223.2" fill="#585c5f" rx="8.5"/>
<rect x="627.6" y="600.6" width="145.7" height="202.7" fill="none" stroke="#4a4e51" stroke-width="1.2"/>
<rect x="662.3" y="624.4" width="75.9" height="22.6" fill="#4d5154" rx="4"/>
<rect x="666.8" y="629.3" width="22.2" height="13.7" fill="#3b3e41" rx="2"/>
<rect x="711.0" y="629.3" width="22.6" height="13.7" fill="#3b3e41" rx="2"/>
<rect x="698.5" y="629.3" width="4.0" height="13.7" fill="#3fb44a" rx="2"/>
<path d="M675,633.5 L680,636 L678,640" fill="none" stroke="#e6e6e6" stroke-width="1.6"/>
<path d="M719,633 L725.6,639.4 M725.6,633 L719,639.4" fill="none" stroke="#e6e6e6" stroke-width="1.7"/>
<rect x="661.0" y="656.0" width="78.3" height="91.8" fill="#4f5356" rx="4"/>
<rect x="664.6" y="658.3" width="71.3" height="86.6" fill="#878c8d" rx="3"/>
<rect x="662.3" y="756.2" width="75.9" height="22.2" fill="#4d5154" rx="4"/>
<rect x="666.8" y="760.7" width="22.2" height="13.2" fill="#3b3e41" rx="2"/>
<rect x="711.0" y="760.7" width="22.6" height="13.2" fill="#3b3e41" rx="2"/>
<path d="M674.5,764.5 L681.5,764.5 L678,770.5 Z" fill="#e6e6e6"/>
<path d="M718.5,770.5 L725.5,770.5 L722,764.5 Z" fill="#e6e6e6"/>
<g fill="#2f78c8"><polygon points="753.2,709.2 756.2,708.6 766,719.6 766,721 755.8,731.6 752.6,730.4 762,720.2"/><polygon points="753.6,670.8 756,669.6 765.6,690.6 763.2,692 "/><polygon points="763.2,669.6 765.6,670.8 756,692 753.6,690.6"/></g>
<path d="M747.75,694.2 V702.5 Q747.75,705.6 750.8,705.6 H756.7 Q759.75,705.6 759.75,702.5 V694.2 M753.85,694.2 V705.6" fill="none" stroke="#2f78c8" stroke-width="2.9"/>
<text x="0" y="0" transform="translate(627.5,627.8) rotate(-90)" font-family="Liberation Sans, sans-serif" font-size="8" fill="#c9cccc" text-anchor="middle">6</text>
<text x="0" y="0" transform="translate(627.5,660.6) rotate(-90)" font-family="Liberation Sans, sans-serif" font-size="8" fill="#c9cccc" text-anchor="middle">5</text>
<text x="0" y="0" transform="translate(627.5,690.0) rotate(-90)" font-family="Liberation Sans, sans-serif" font-size="8" fill="#c9cccc" text-anchor="middle">4</text>
<text x="0" y="0" transform="translate(627.5,721.8) rotate(-90)" font-family="Liberation Sans, sans-serif" font-size="8" fill="#c9cccc" text-anchor="middle">3</text>
<text x="0" y="0" transform="translate(627.5,753.5) rotate(-90)" font-family="Liberation Sans, sans-serif" font-size="8" fill="#c9cccc" text-anchor="middle">2</text>
<text x="0" y="0" transform="translate(627.5,784.0) rotate(-90)" font-family="Liberation Sans, sans-serif" font-size="8" fill="#c9cccc" text-anchor="middle">1</text>
<text x="0" y="0" transform="translate(780.5,627.8) rotate(-90)" font-family="Liberation Sans, sans-serif" font-size="8" fill="#c9cccc" text-anchor="middle">12</text>
<text x="0" y="0" transform="translate(780.5,660.6) rotate(-90)" font-family="Liberation Sans, sans-serif" font-size="8" fill="#c9cccc" text-anchor="middle">11</text>
<text x="0" y="0" transform="translate(780.5,690.6) rotate(-90)" font-family="Liberation Sans, sans-serif" font-size="8" fill="#c9cccc" text-anchor="middle">10</text>
<text x="0" y="0" transform="translate(780.5,722.9) rotate(-90)" font-family="Liberation Sans, sans-serif" font-size="8" fill="#c9cccc" text-anchor="middle">9</text>
<text x="0" y="0" transform="translate(780.5,753.0) rotate(-90)" font-family="Liberation Sans, sans-serif" font-size="8" fill="#c9cccc" text-anchor="middle">8</text>
<text x="0" y="0" transform="translate(780.5,784.0) rotate(-90)" font-family="Liberation Sans, sans-serif" font-size="8" fill="#c9cccc" text-anchor="middle">7</text>
<ellipse cx="642" cy="816" rx="8" ry="3.5" fill="#1f5fae"/>
<ellipse cx="757" cy="816" rx="8" ry="3.5" fill="#1f5fae"/>
<rect x="640.0" y="815.0" width="120.0" height="9.0" fill="#3a3c3f"/>
<rect x="644.0" y="815.0" width="10.4" height="14.3" fill="#2f79ca"/>
<rect x="744.2" y="815.0" width="10.4" height="14.3" fill="#2f79ca"/>
<rect x="658.9" y="815.0" width="4.1" height="17.7" fill="#e0622f"/>
<rect x="736.0" y="815.0" width="4.0" height="17.7" fill="#e0622f"/>
<rect x="672.0" y="815.0" width="56.0" height="12.3" fill="#46494c"/>
<rect x="693.0" y="818.0" width="15.0" height="7.0" fill="#2a2c2e"/>
<rect x="686.0" y="827.3" width="27.0" height="3.2" fill="#c8c9c9"/>
</svg></body></html>
